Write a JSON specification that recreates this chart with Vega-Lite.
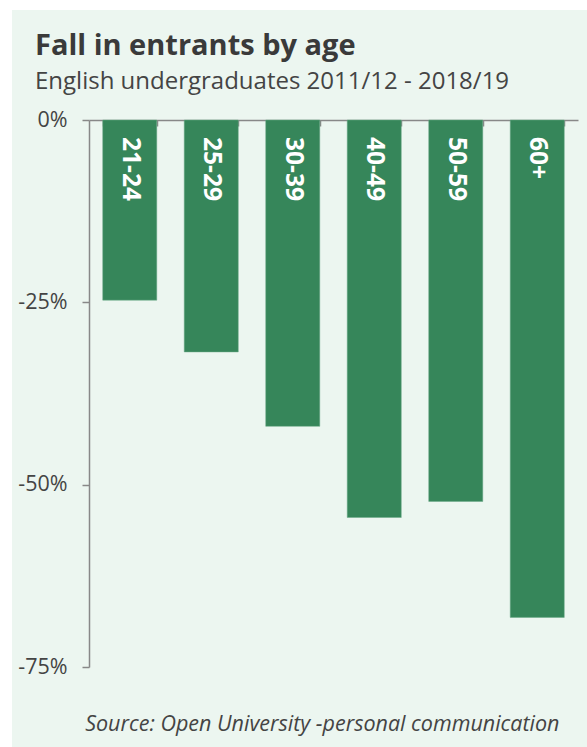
{
  "$schema": "https://vega.github.io/schema/vega-lite/v6.json",
  "width": 575,
  "height": 737,
  "autosize": "none",
  "padding": {"left": 12, "top": 10, "right": 0, "bottom": 0},
  "background": "white",
  "config": {
    "view": {"fill": "#ecf6f0", "stroke": null},
    "font": "Open Sans"
  },
  "title": {
    "text": "Fall in entrants by age",
    "subtitle": "English undergraduates 2011/12 - 2018/19",
    "anchor": "start",
    "frame": "group",
    "orient": "top",
    "dx": 23,
    "offset": -84,
    "font": "Open Sans",
    "fontSize": 29,
    "fontWeight": "bold",
    "color": "#3a3a3a",
    "subtitleFont": "Open Sans",
    "subtitleFontSize": 24,
    "subtitleColor": "#444444",
    "subtitlePadding": 9
  },
  "data": {
    "values": [
      {"age": "21-24", "change": -0.247},
      {"age": "25-29", "change": -0.318},
      {"age": "30-39", "change": -0.42},
      {"age": "40-49", "change": -0.545},
      {"age": "50-59", "change": -0.523},
      {"age": "60+", "change": -0.682}
    ]
  },
  "encoding": {
    "x": {
      "field": "age",
      "type": "nominal",
      "sort": null,
      "scale": {"range": [77, 566], "paddingInner": 0.337, "paddingOuter": 0.1685},
      "axis": {
        "orient": "bottom",
        "offset": -627,
        "labels": false,
        "tickBand": "extent",
        "tickSize": 6,
        "tickColor": "#888888",
        "tickWidth": 1.5,
        "domainColor": "#888888",
        "domainWidth": 1.5,
        "title": "Source: Open University -personal communication",
        "titleX": 547,
        "titleY": 610,
        "titleAlign": "right",
        "titleBaseline": "alphabetic",
        "titleAnchor": null,
        "titleFont": "Open Sans",
        "titleFontSize": 21.5,
        "titleFontWeight": "normal",
        "titleFontStyle": "italic",
        "titleColor": "#444444"
      }
    }
  },
  "layer": [
    {
      "mark": {"type": "bar", "color": "#36865a", "stroke": "#6aa886", "strokeWidth": 0.5},
      "encoding": {
        "y": {
          "field": "change",
          "type": "quantitative",
          "scale": {"domain": [-0.75, 0], "range": [657, 110], "nice": false, "zero": false},
          "axis": {
            "orient": "left",
            "offset": -77,
            "values": [0, -0.25, -0.5, -0.75],
            "labelExpr": "replace(format(datum.value, '.0%'), '\u2212', '-')",
            "grid": false,
            "title": null,
            "tickSize": 7,
            "tickColor": "#888888",
            "tickWidth": 1.5,
            "domainColor": "#888888",
            "domainWidth": 1.5,
            "labelFont": "Open Sans",
            "labelFontSize": 21.5,
            "labelColor": "#444444",
            "labelPadding": 15
          }
        }
      }
    },
    {
      "mark": {
        "type": "text",
        "angle": 90,
        "align": "left",
        "baseline": "middle",
        "dx": 17,
        "font": "Open Sans",
        "fontSize": 24.5,
        "fontWeight": "bold",
        "color": "white"
      },
      "encoding": {
        "y": {"datum": 0, "type": "quantitative"},
        "text": {"field": "age"}
      }
    }
  ]
}
